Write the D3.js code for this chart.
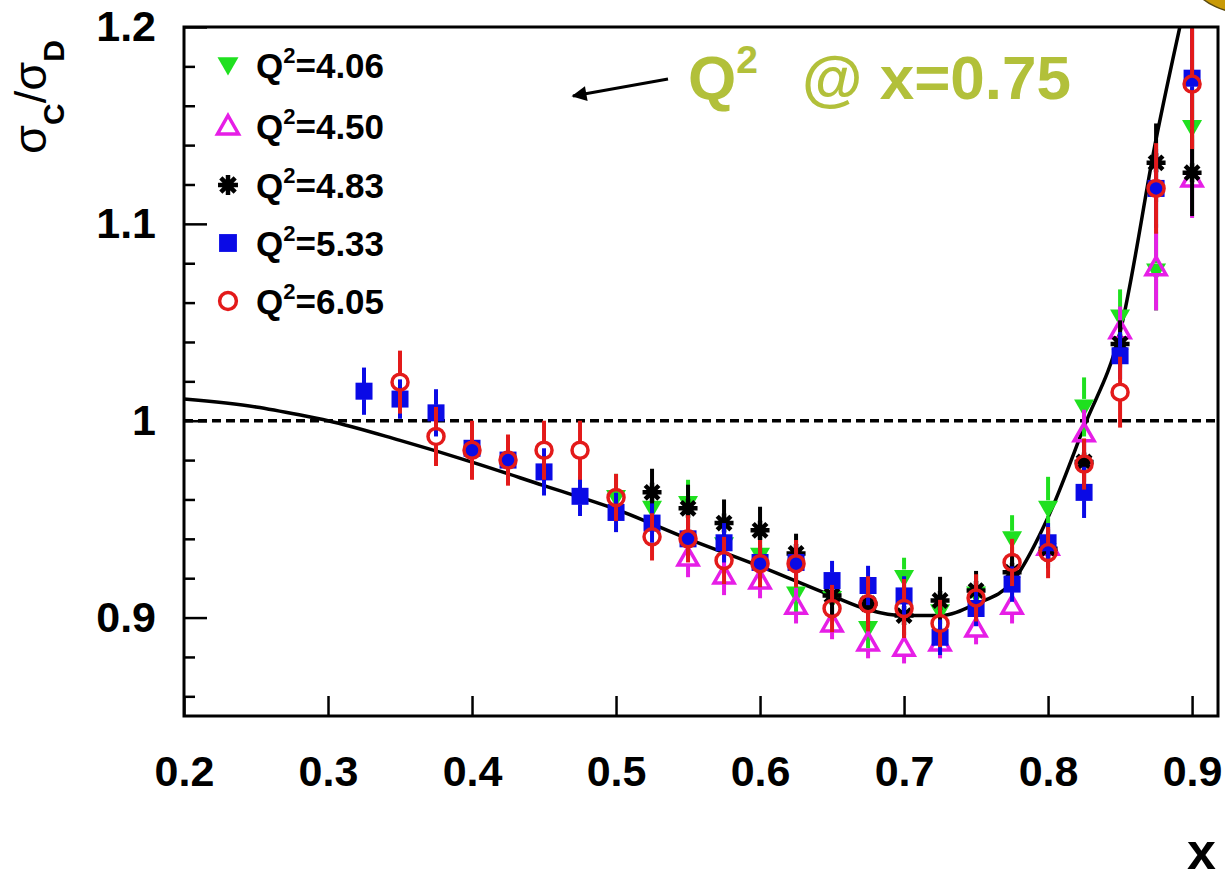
<!DOCTYPE html>
<html lang="en">
<head>
    <meta charset="UTF-8">
    <title>sigma_C / sigma_D vs x</title>
    <script src="https://d3js.org/d3.v7.min.js"></script>
    <style>
        body { margin: 0; background: #fff; }
        svg { display: block; font-family: "Liberation Sans", Arial, Helvetica, sans-serif; }
    </style>
</head>
<body>
<svg width="1225" height="879"></svg>
<script>
    // legend labels (Q^2 values), in drawing order
    const q2Labels = ["4.06", "4.50", "4.83", "5.33", "6.05"];

    // Q2 = 4.06 (green, filled down triangle)
    const xQ406 = [0.5, 0.525, 0.55, 0.575, 0.6, 0.625, 0.65, 0.675, 0.7, 0.725, 0.75, 0.775, 0.8, 0.825, 0.85, 0.875, 0.9];
    const yQ406 = [0.961, 0.9555, 0.958, 0.937, 0.9316, 0.912, 0.9097, 0.8944, 0.9204, 0.903, 0.912, 0.940, 0.9555, 1.007, 1.0527, 1.076, 1.149];
    const eQ406 = [0.012, 0.012, 0.012, 0.011, 0.011, 0.01, 0.01, 0.01, 0.01, 0.01, 0.01, 0.012, 0.016, 0.015, 0.014, 0.02, 0.02];

    // Q2 = 4.50 (magenta, open triangle)
    const xQ450 = [0.55, 0.575, 0.6, 0.625, 0.65, 0.675, 0.7, 0.725, 0.75, 0.775, 0.8, 0.825, 0.85, 0.875, 0.9];
    const yQ450 = [0.9305, 0.9214, 0.9188, 0.906, 0.897, 0.8873, 0.8847, 0.8873, 0.8944, 0.906, 0.936, 0.9936, 1.046, 1.078, 1.123];
    const eQ450 = [0.01, 0.01, 0.009, 0.009, 0.008, 0.008, 0.008, 0.008, 0.008, 0.009, 0.01, 0.012, 0.012, 0.022, 0.02];

    // Q2 = 4.83 (black, star)
    const xQ483 = [0.525, 0.55, 0.575, 0.6, 0.625, 0.65, 0.675, 0.7, 0.725, 0.75, 0.775, 0.8, 0.825, 0.85, 0.875, 0.9];
    const yQ483 = [0.9636, 0.9555, 0.948, 0.9443, 0.9326, 0.9112, 0.907, 0.901, 0.9087, 0.9137, 0.923, 0.935, 0.979, 1.039, 1.131, 1.126];
    const eQ483 = [0.012, 0.012, 0.012, 0.012, 0.01, 0.01, 0.01, 0.01, 0.012, 0.01, 0.01, 0.01, 0.01, 0.012, 0.02, 0.022];

    // Q2 = 5.33 (blue, filled square)
    const xQ533 = [0.325, 0.35, 0.375, 0.4, 0.425, 0.45, 0.475, 0.5, 0.525, 0.55, 0.575, 0.6, 0.625, 0.65, 0.675, 0.7, 0.725, 0.75, 0.775, 0.8, 0.825, 0.85, 0.875, 0.9];
    const yQ533 = [1.015, 1.011, 1.004, 0.986, 0.980, 0.974, 0.9616, 0.9534, 0.948, 0.940, 0.938, 0.928, 0.928, 0.9188, 0.9163, 0.911, 0.890, 0.9046, 0.917, 0.938, 0.9636, 1.033, 1.118, 1.174];
    const eQ533 = [0.012, 0.01, 0.012, 0.01, 0.01, 0.012, 0.01, 0.01, 0.01, 0.01, 0.01, 0.009, 0.009, 0.01, 0.01, 0.01, 0.009, 0.009, 0.009, 0.01, 0.013, 0.012, 0.02, 0.025];

    // Q2 = 6.05 (red, open circle)
    const xQ605 = [0.35, 0.375, 0.4, 0.425, 0.45, 0.475, 0.5, 0.525, 0.55, 0.575, 0.6, 0.625, 0.65, 0.675, 0.7, 0.725, 0.75, 0.775, 0.8, 0.825, 0.85, 0.875, 0.9];
    const yQ605 = [1.0196, 0.992, 0.985, 0.980, 0.985, 0.985, 0.961, 0.941, 0.940, 0.929, 0.9274, 0.9274, 0.9046, 0.907, 0.9046, 0.897, 0.910, 0.928, 0.933, 0.978, 1.0145, 1.118, 1.171];
    const eQ605 = [0.016, 0.015, 0.015, 0.013, 0.015, 0.015, 0.012, 0.012, 0.012, 0.012, 0.012, 0.012, 0.012, 0.014, 0.015, 0.012, 0.012, 0.012, 0.013, 0.013, 0.018, 0.023, 0.033];

    // fitted curve
    const curveX = [0.2, 0.25, 0.28, 0.3, 0.35, 0.4, 0.45, 0.5, 0.55, 0.6, 0.65, 0.675, 0.7, 0.725, 0.75, 0.775, 0.8, 0.825, 0.85, 0.875, 0.9];
    const curveY = [1.011, 1.007, 1.003, 1.0, 0.990, 0.979, 0.967, 0.955, 0.940, 0.926, 0.911, 0.904, 0.901, 0.901, 0.907, 0.918, 0.951, 0.997, 1.045, 1.143, 1.228];

    // axes
    const xTicks = [0.2, 0.3, 0.4, 0.5, 0.6, 0.7, 0.8, 0.9];
    const xTickLabels = ["0.2", "0.3", "0.4", "0.5", "0.6", "0.7", "0.8", "0.9"];
    const yTicks = [0.9, 1.0, 1.1, 1.2];
    const yTickLabels = ["0.9", "1", "1.1", "1.2"];
    const yMinorTicks = [0.86, 0.88, 0.92, 0.94, 0.96, 0.98, 1.02, 1.04, 1.06, 1.08, 1.12, 1.14, 1.16, 1.18];

    const series = [
        { label: q2Labels[0], xs: xQ406, ys: yQ406, es: eQ406, color: "#1fe01f", marker: "triDown" },
        { label: q2Labels[1], xs: xQ450, ys: yQ450, es: eQ450, color: "#e61ee6", marker: "triUp" },
        { label: q2Labels[2], xs: xQ483, ys: yQ483, es: eQ483, color: "#000000", marker: "star" },
        { label: q2Labels[3], xs: xQ533, ys: yQ533, es: eQ533, color: "#0a0ae6", marker: "square" },
        { label: q2Labels[4], xs: xQ605, ys: yQ605, es: eQ605, color: "#e31a1a", marker: "circle" }
    ];

    const svg = d3.select("svg");
    const plotLeft = 184, plotRight = 1218, plotTop = 27, plotBottom = 716;

    const x = d3.scaleLinear().domain([0.2, 0.918]).range([plotLeft, plotRight]);
    const y = d3.scaleLinear().domain([0.85, 1.2]).range([plotBottom, plotTop]);

    const defs = svg.append("defs");
    defs.append("clipPath").attr("id", "plot")
        .append("rect").attr("x", plotLeft).attr("y", plotTop)
        .attr("width", plotRight - plotLeft).attr("height", plotBottom - plotTop);

    // dashed line at 1
    svg.append("line")
        .attr("x1", plotLeft).attr("x2", plotRight)
        .attr("y1", y(1)).attr("y2", y(1))
        .attr("stroke", "#000").attr("stroke-width", 3.5)
        .attr("stroke-dasharray", "9,5");

    // curve
    const line = d3.line()
        .x((d, i) => x(d))
        .y((d, i) => y(curveY[i]))
        .curve(d3.curveMonotoneX);

    svg.append("path")
        .attr("clip-path", "url(#plot)")
        .attr("d", line(curveX))
        .attr("fill", "none")
        .attr("stroke", "#000")
        .attr("stroke-width", 3.5);

    function markerPath(type, s) {
        const p = d3.path();
        if (type === "triDown") {
            p.moveTo(-s, -s * 0.75); p.lineTo(s, -s * 0.75); p.lineTo(0, s); p.closePath();
        } else if (type === "triUp") {
            p.moveTo(0, -s); p.lineTo(s, s * 0.75); p.lineTo(-s, s * 0.75); p.closePath();
        } else if (type === "square") {
            p.rect(-s * 0.85, -s * 0.85, s * 1.7, s * 1.7);
        } else if (type === "circle") {
            p.arc(0, 0, s * 0.8, 0, 2 * Math.PI);
        } else if (type === "star") {
            const a = s * 0.95, b = a * 0.72;
            p.moveTo(-a, 0); p.lineTo(a, 0);
            p.moveTo(0, -a); p.lineTo(0, a);
            p.moveTo(-b, -b); p.lineTo(b, b);
            p.moveTo(-b, b); p.lineTo(b, -b);
        }
        return p.toString();
    }

    function drawMarker(g, type, cx, cy, color, s) {
        const filled = type === "triDown" || type === "square";
        g.append("path")
            .attr("transform", `translate(${cx},${cy})`)
            .attr("d", markerPath(type, s))
            .attr("fill", filled ? color : "none")
            .attr("stroke", filled ? "none" : color)
            .attr("stroke-width", type === "star" ? 4.5 : 3.5);
    }

    const plot = svg.append("g").attr("clip-path", "url(#plot)");
    const gap = 8;

    series.forEach(s => {
        const g = plot.append("g");
        s.xs.forEach((xv, i) => {
            const cx = x(xv), cy = y(s.ys[i]);
            const yTop = y(s.ys[i] + s.es[i]), yBot = y(s.ys[i] - s.es[i]);
            if (cy - gap > yTop) {
                g.append("line").attr("x1", cx).attr("x2", cx)
                    .attr("y1", yTop).attr("y2", cy - gap)
                    .attr("stroke", s.color).attr("stroke-width", 4);
            }
            if (yBot > cy + gap) {
                g.append("line").attr("x1", cx).attr("x2", cx)
                    .attr("y1", cy + gap).attr("y2", yBot)
                    .attr("stroke", s.color).attr("stroke-width", 4);
            }
        });
        s.xs.forEach((xv, i) => {
            drawMarker(g, s.marker, x(xv), y(s.ys[i]), s.color, 10);
        });
    });

    // axes
    const fontTick = 43;
    const xAxis = d3.axisBottom(x)
        .tickValues(xTicks)
        .tickFormat((d, i) => xTickLabels[i])
        .tickSizeInner(-20).tickSizeOuter(0).tickPadding(39);
    const gx = svg.append("g").attr("transform", `translate(0,${plotBottom})`).call(xAxis);

    const yAxis = d3.axisLeft(y)
        .tickValues(yTicks)
        .tickFormat((d, i) => yTickLabels[i])
        .tickSizeInner(-23).tickSizeOuter(0).tickPadding(28);
    const gy = svg.append("g").attr("transform", `translate(${plotLeft},0)`).call(yAxis);

    const yMinor = d3.axisLeft(y).tickValues(yMinorTicks).tickFormat("")
        .tickSizeInner(-11).tickSizeOuter(0);
    const gym = svg.append("g").attr("transform", `translate(${plotLeft},0)`).call(yMinor);

    [gx, gy, gym].forEach(g => {
        g.select(".domain").remove();
        g.selectAll(".tick line").attr("stroke", "#000").attr("stroke-width", 2.5);
        g.selectAll(".tick text")
            .attr("fill", "#000")
            .attr("font-size", fontTick)
            .attr("font-weight", "bold")
            .attr("font-family", "'Liberation Sans', Arial, sans-serif");
    });

    // frame
    svg.append("rect")
        .attr("x", plotLeft).attr("y", plotTop)
        .attr("width", plotRight - plotLeft).attr("height", plotBottom - plotTop)
        .attr("fill", "none").attr("stroke", "#000").attr("stroke-width", 3);

    // axis titles
    const yt = svg.append("text")
        .attr("transform", "translate(46,97) rotate(-90)")
        .attr("text-anchor", "middle")
        .attr("fill", "#000");
    yt.append("tspan").attr("font-size", 47).text("σ");
    yt.append("tspan").attr("font-size", 30).attr("font-weight", "bold").attr("dy", 18).text("C");
    yt.append("tspan").attr("font-size", 45).attr("dy", -18).text("/");
    yt.append("tspan").attr("font-size", 47).text("σ");
    yt.append("tspan").attr("font-size", 30).attr("font-weight", "bold").attr("dy", 18).text("D");

    svg.append("text")
        .attr("x", 1216).attr("y", 869)
        .attr("text-anchor", "end")
        .attr("font-size", 52).attr("font-weight", "bold")
        .text("x");

    // legend
    const legendY = [65, 126, 185, 243, 301];
    series.forEach((s, i) => {
        const lg = svg.append("g");
        drawMarker(lg, s.marker, 228, legendY[i], s.color, 10.5);
        const t = lg.append("text")
            .attr("x", 256).attr("y", legendY[i] + 13)
            .attr("font-size", 35).attr("font-weight", "bold").attr("fill", "#000");
        t.append("tspan").text("Q");
        t.append("tspan").attr("font-size", 22).attr("dy", -15).text("2");
        t.append("tspan").attr("dy", 15).text("=" + s.label);
    });

    // annotation
    const olive = "#b2c03a";
    const ann = svg.append("text")
        .attr("x", 688).attr("y", 99)
        .attr("font-size", 62).attr("font-weight", "bold").attr("fill", olive);
    ann.append("tspan").text("Q");
    ann.append("tspan").attr("font-size", 39).attr("dy", -26).text("2");
    ann.append("tspan").attr("x", 802).attr("dy", 26).text("@ x=0.75");

    defs.append("marker")
        .attr("id", "arrow").attr("viewBox", "0 0 10 10")
        .attr("refX", 9).attr("refY", 5)
        .attr("markerWidth", 5.5).attr("markerHeight", 5)
        .attr("markerUnits", "strokeWidth")
        .attr("orient", "auto")
        .append("path").attr("d", "M0,0 L10,5 L0,10 Z").attr("fill", "#000");

    svg.append("line")
        .attr("x1", 668).attr("y1", 79).attr("x2", 573).attr("y2", 96)
        .attr("stroke", "#000").attr("stroke-width", 3)
        .attr("marker-end", "url(#arrow)");

    // decoration cut at the top right corner
    svg.append("ellipse")
        .attr("cx", 1265).attr("cy", -16).attr("rx", 70).attr("ry", 32)
        .attr("fill", "#c99a06").attr("stroke", "#5a4a10").attr("stroke-width", 1.5);
</script>
</body>
</html>
